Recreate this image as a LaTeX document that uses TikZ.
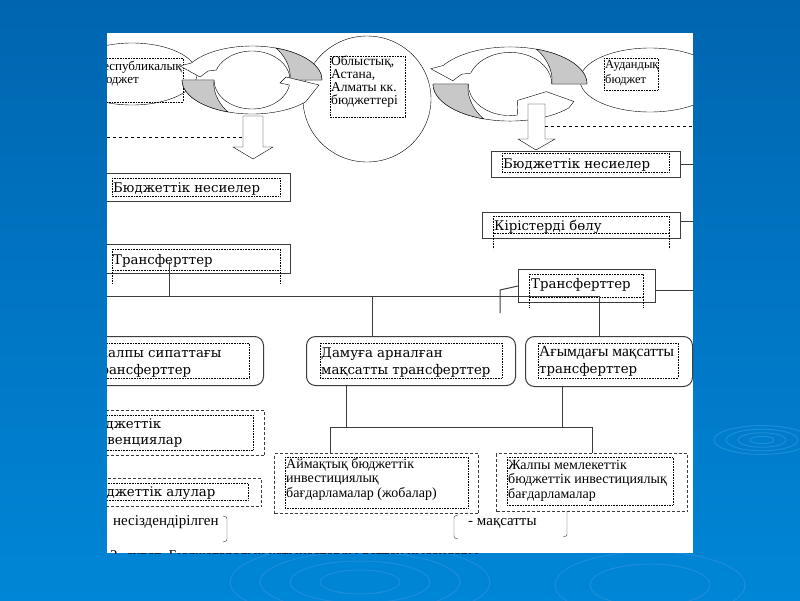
\documentclass[tikz,border=0pt]{standalone}
\usepackage{fontspec}
\setmainfont{Liberation Serif}
\newfontfamily\boxfont{DejaVu Serif}
\usetikzlibrary{shapes.geometric}

\definecolor{bgtop}{RGB}{0,101,176}
\definecolor{bgbot}{RGB}{0,134,214}
\definecolor{ripplecol}{RGB}{28,142,218}
\definecolor{tailgray}{RGB}{200,200,200}
\definecolor{boxline}{RGB}{60,60,60}

\tikzset{
  obox/.style={draw=boxline, line width=1pt, anchor=north west, inner sep=0pt, fill=white},
  roundbox/.style={obox, rounded corners=9pt},
  dashbox/.style={obox, dash pattern=on 3pt off 2pt},
  dotfr/.style={densely dotted, line width=0.6pt},
  conn/.style={draw=boxline, line width=1pt},
  boxtext/.style={anchor=north west, inner sep=0pt, align=left, font=\boxfont\fontsize{13.3}{17}\selectfont},
  smalltext/.style={anchor=north west, inner sep=0pt, align=left},
  ripple/.style={draw=ripplecol, line width=1pt},
}
\newcommand\tstrut[1]{\rule{0pt}{#1pt}}
\def\ia{38}
\def\ib{29}

% two curved arrows chasing each other
\newcommand\cyclepair[2]{%
  \begin{scope}[#1]
    \draw[fill=white] (0:70 and 34) arc[start angle=0, end angle=-150, x radius=70, y radius=34]
      -- (-72,-14) -- (-52,-3) -- (-44,-9) -- (-160:\ia\space and \ib)
      arc[start angle=-160, end angle=0, x radius=\ia, y radius=\ib] -- cycle;
    \filldraw[fill=tailgray] (-70:70 and 34) arc[start angle=-70, end angle=0, x radius=70, y radius=34]
      -- (0:\ia\space and \ib) .. controls (-30:46 and 30) and (-55:52 and 33) .. cycle;
    \draw[fill=white] (180:70 and 34) arc[start angle=180, end angle=40, x radius=70, y radius=34]
      #2
      arc[start angle=\pairend, end angle=180, x radius=\ia, y radius=\ib] -- cycle;
    \filldraw[fill=tailgray] (110:70 and 34) arc[start angle=110, end angle=180, x radius=70, y radius=34]
      -- (180:\ia\space and \ib) .. controls (150:46 and 30) and (125:52 and 33) .. cycle;
  \end{scope}}

\begin{document}
\begin{tikzpicture}[x=1pt,y=-1pt]
\useasboundingbox (0,0) rectangle (800,600);
\shade[top color=bgtop, bottom color=bgbot] (0,0) rectangle (800,600);
\foreach \r in {8,16,24,32}
  \draw[ripple] (762,440) ellipse[x radius=1.5*\r, y radius=0.45*\r];
\foreach \r in {40,70,100,130}
  \draw[ripple] (360,582) ellipse[x radius=\r, y radius=0.3*\r];
\foreach \r in {60,95}
  \draw[ripple] (650,585) ellipse[x radius=\r, y radius=0.35*\r];

\fill[white] (107,33) rectangle (693,553);
\begin{scope}
\clip (107,33) rectangle (693,553);

% budgets
\node[draw, ellipse, fill=white, minimum width=130pt, minimum height=62pt, inner sep=0pt] (resp) at (132,74) {};
\node[draw, ellipse, fill=white, minimum width=140pt, minimum height=64pt, inner sep=0pt] (aud) at (650,80) {};
\node[draw, ellipse, fill=white, minimum width=128pt, minimum height=126pt, inner sep=0pt] (obl) at (367,99) {};
\draw[dotfr] (60,58) rectangle (183,102);
\draw[dotfr] (330,56) rectangle (405,117);
\draw[dotfr] (604,58) rectangle (658,90);
\node[smalltext, font=\fontsize{13}{13}\selectfont] (resptext) at (96,60) {\tstrut{10}Республикалық\\бюджет};
\node[smalltext, font=\fontsize{13.5}{13}\selectfont] (obltext) at (331,55) {\tstrut{10}Облыстық,\\Астана,\\Алматы кк.\\бюджеттері};
\node[smalltext, font=\fontsize{12.5}{15}\selectfont] (audtext) at (605,58) {\tstrut{10}Аудандық\\бюджет};

\def\pairend{10}
\cyclepair{shift={(252,80)}}{-- (67,5) -- (34,-3) -- (28,3) -- (10:\ia\space and \ib)}
\def\pairend{80}
\cyclepair{shift={(510,84)}, xscale=1.1, yscale=1.09}{-- (58,16) -- (33,7) -- (7,15) -- (80:\ia\space and \ib)}

% block arrows
\draw[fill=white] (243,116) -- (263,116) -- (263,147) -- (273,147) -- (253,159) -- (233,147) -- (243,147) -- cycle;
\draw[fill=white] (528,104) -- (545,104) -- (545,139) -- (555,139) -- (536,150) -- (518,139) -- (528,139) -- cycle;
\coordinate (dashL) at (107,137);
\coordinate (dashR) at (693,126);
\draw[dashed] (dashL) -- (243,137);
\draw[dashed] (545,126) -- (dashR);

% boxes
\node[obox, minimum width=230pt, minimum height=28pt] (bnL) at (60,173) {};
\node[obox, minimum width=230pt, minimum height=29pt] (trL) at (60,244) {};
\node[obox, minimum width=189pt, minimum height=26pt] (bnR) at (491,151) {};
\node[obox, minimum width=198pt, minimum height=26pt] (kir) at (482,212) {};
\node[obox, minimum width=137pt, minimum height=33pt] (trR) at (518,269) {};
\node[roundbox, minimum width=223pt, minimum height=49pt] (zhal) at (40,336) {};
\node[roundbox, minimum width=209pt, minimum height=49pt] (dam) at (306,336) {};
\node[roundbox, minimum width=167pt, minimum height=50pt] (agym) at (525,336) {};
\node[dashbox, minimum width=224pt, minimum height=45pt] (sub) at (40,410) {};
\node[dashbox, minimum width=221pt, minimum height=28pt] (alu) at (40,478) {};
\node[dashbox, minimum width=204pt, minimum height=60pt] (aim) at (274,453) {};
\node[dashbox, minimum width=191pt, minimum height=58pt] (zhm) at (496,453) {};

% dotted text frames
\draw[dotfr] (112,178) rectangle (280,196);
\draw[dotfr] (112,249) rectangle (280,270) (112,270) -- (112,283) (280,270) -- (280,283);
\draw[dotfr] (502,153) rectangle (669,172);
\draw[dotfr] (493,216) rectangle (669,233) (493,233) -- (493,249) (669,233) -- (669,249);
\draw[dotfr] (529,274) rectangle (643,297) (529,297) -- (529,307) (643,297) -- (643,307);
\draw[dotfr] (60,343) rectangle (249,378);
\draw[dotfr] (320,343) rectangle (502,378);
\draw[dotfr] (538,343) rectangle (678,378);
\draw[dotfr] (60,415) rectangle (253,450);
\draw[dotfr] (60,483) rectangle (248,500);
\draw[dotfr] (285,457) rectangle (468,508);
\draw[dotfr] (507,457) rectangle (673,505);

% texts
\node[boxtext] (bnLtext) at (113,181) {\tstrut{11}Бюджеттік несиелер};
\node[boxtext] (trLtext) at (113,253) {\tstrut{11}Трансферттер};
\node[boxtext] (bnRtext) at (503,157) {\tstrut{11}Бюджеттік несиелер};
\node[boxtext] (kirtext) at (494,219) {\tstrut{11}Кірістерді бөлу};
\node[boxtext] (trRtext) at (531,277) {\tstrut{11}Трансферттер};
\node[boxtext] (zhaltext) at (93,346) {\tstrut{11}Жалпы сипаттағы\\трансферттер};
\node[boxtext] (damtext) at (321,346) {\tstrut{11}Дамуға арналған\\мақсатты трансферттер};
\node[boxtext] (agymtext) at (539,345) {\tstrut{11}{\rmfamily\fontsize{15.5}{17}\selectfont Ағымдағы мақсатты}\\трансферттер};
\node[boxtext, font=\boxfont\fontsize{13.3}{16}\selectfont] (subtext) at (84,417) {\tstrut{11}Бюджеттік\\субвенциялар};
\node[boxtext] (alutext) at (85,485) {\tstrut{11}Бюджеттік алулар};
\node[smalltext, font=\fontsize{14}{14.5}\selectfont] (aimtext) at (286,457.5) {\tstrut{10.5}Аймақтық бюджеттік\\инвестициялық\\бағдарламалар (жобалар)};
\node[smalltext, font=\fontsize{14}{14.5}\selectfont] (zhmtext) at (508,458.5) {\tstrut{10.5}Жалпы мемлекеттік\\бюджеттік инвестициялық\\бағдарламалар};

% connectors
\coordinate (edge) at (693,0);
\coordinate (busW) at (107,296);
\coordinate (busE) at (599,296);
\coordinate (trLdrop) at (169,262);
\coordinate (damUp) at (372,296);
\coordinate (trRstub) at (500,313);
\draw[conn] (trLdrop) -- (trLdrop |- busW);
\draw[conn] (busW) -- (busE) -- (busE |- agym.north);
\draw[conn] (damUp) -- (damUp |- dam.north);
\draw[conn] (trR.west) -- ++(-18,4) -- (trRstub);
\draw[conn] (bnR.east) -- (bnR.east -| edge);
\draw[conn] ([yshift=4pt]kir.east) -- ([yshift=4pt]kir.east -| edge);
\draw[conn] ([yshift=-4pt]trR.east) -- ([yshift=-4pt]trR.east -| edge);
\coordinate (damDn) at (346,427);
\coordinate (agymDn) at (562,427);
\coordinate (hubW) at (330,427);
\coordinate (hubE) at (592,427);
\draw[conn] (dam.south -| damDn) -- (damDn);
\draw[conn] (agym.south -| agymDn) -- (agymDn);
\draw[conn] (hubW) -- (hubE);
\draw[conn] (hubW) -- (hubW |- aim.north);
\draw[conn] (hubE) -- (hubE |- zhm.north);

% notes and brackets
\node[anchor=base west, inner sep=0pt, font=\fontsize{15}{15}\selectfont] (nestext) at (113,525) {несіздендірілген};
\node[anchor=base west, inner sep=0pt, font=\fontsize{15}{15}\selectfont] (maqtext) at (468,525) {- мақсатты};
\draw[boxline] (223,516) .. controls (227,517) .. (227,521) -- (227,537) .. controls (227,541) .. (223,542);
\draw[boxline] (458,515) .. controls (454,516) .. (454,520) -- (454,534) .. controls (454,538) .. (458,539);
\draw[boxline] (567,511) -- (567,532) .. controls (567,536) .. (563,537);
\node[anchor=base west, inner sep=0pt, font=\fontsize{15}{15}\selectfont] (caption) at (110,560) {2 -сурет. Бюджетаралық қатынастарды реттеу нысандары};
\end{scope}
\end{tikzpicture}
\end{document}
